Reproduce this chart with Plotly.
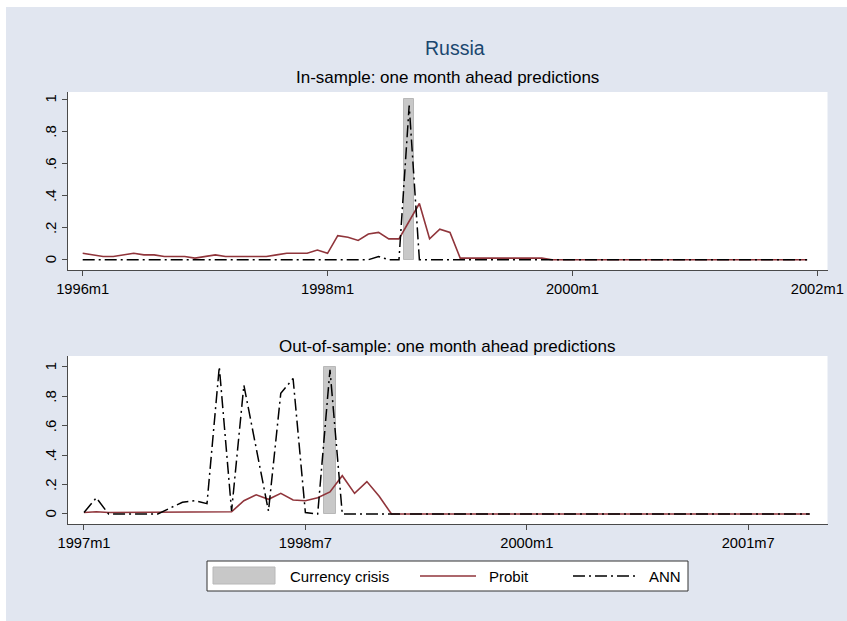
import plotly.graph_objects as go


def tm(year, month):
    """Stata-style monthly date: months since 1960m1."""
    return (year - 1960) * 12 + (month - 1)


# ---- data -------------------------------------------------------------
# In-sample window: 1996m1 .. 2001m12
in_start = tm(1996, 1)
probit_in = [0.04, 0.03, 0.02, 0.02, 0.03, 0.04, 0.03, 0.03, 0.02, 0.02, 0.02, 0.01,
             0.02, 0.03, 0.02, 0.02, 0.02, 0.02, 0.02, 0.03, 0.04, 0.04, 0.04, 0.06,
             0.04, 0.15, 0.14, 0.12, 0.16, 0.17, 0.13, 0.13, 0.24, 0.35, 0.13, 0.19,
             0.17, 0.01, 0.01, 0.01, 0.01, 0.01, 0.01, 0.01, 0.01, 0.01, 0.00, 0.00,
             0.00, 0.00, 0.00, 0.00, 0.00, 0.00, 0.00, 0.00, 0.00, 0.00, 0.00, 0.00,
             0.00, 0.00, 0.00, 0.00, 0.00, 0.00, 0.00, 0.00, 0.00, 0.00, 0.00, 0.00]
ann_in = [0.00, 0.00, 0.00, 0.00, 0.00, 0.00, 0.00, 0.00, 0.00, 0.00, 0.00, 0.00,
          0.00, 0.00, 0.00, 0.00, 0.00, 0.00, 0.00, 0.00, 0.00, 0.00, 0.00, 0.00,
          0.00, 0.00, 0.00, 0.00, 0.00, 0.02, 0.00, 0.00, 0.96, 0.00, 0.00, 0.00,
          0.00, 0.00, 0.00, 0.00, 0.00, 0.00, 0.00, 0.00, 0.00, 0.00, 0.00, 0.00,
          0.00, 0.00, 0.00, 0.00, 0.00, 0.00, 0.00, 0.00, 0.00, 0.00, 0.00, 0.00,
          0.00, 0.00, 0.00, 0.00, 0.00, 0.00, 0.00, 0.00, 0.00, 0.00, 0.00, 0.00]

# Out-of-sample window: 1997m1 .. 2001m12
out_start = tm(1997, 1)
probit_out = [0.01, 0.015, 0.01, 0.01, 0.01, 0.01, 0.01, 0.015, 0.015, 0.015, 0.01, 0.015,
              0.015, 0.09, 0.13, 0.10, 0.14, 0.095, 0.09, 0.11, 0.15, 0.26, 0.14, 0.22,
              0.12, 0.00, 0.00, 0.00, 0.00, 0.00, 0.00, 0.00, 0.00, 0.00, 0.00, 0.00,
              0.00, 0.00, 0.00, 0.00, 0.00, 0.00, 0.00, 0.00, 0.00, 0.00, 0.00, 0.00,
              0.00, 0.00, 0.00, 0.00, 0.00, 0.00, 0.00, 0.00, 0.00, 0.00, 0.00, 0.00]
ann_out = [0.01, 0.11, 0.00, 0.00, 0.00, 0.00, 0.00, 0.04, 0.08, 0.09, 0.07, 1.00,
           0.02, 0.875, 0.45, 0.02, 0.82, 0.92, 0.01, 0.00, 0.98, 0.00, 0.00, 0.00,
           0.00, 0.00, 0.00, 0.00, 0.00, 0.00, 0.00, 0.00, 0.00, 0.00, 0.00, 0.00,
           0.00, 0.00, 0.00, 0.00, 0.00, 0.00, 0.00, 0.00, 0.00, 0.00, 0.00, 0.00,
           0.00, 0.00, 0.00, 0.00, 0.00, 0.00, 0.00, 0.00, 0.00, 0.00, 0.00, 0.00]

crisis_months = [tm(1998, 9)]
crisis_level = [1]

months_in = list(range(in_start, in_start + len(probit_in)))
months_out = list(range(out_start, out_start + len(probit_out)))

in_tickvals = [tm(1996, 1), tm(1998, 1), tm(2000, 1), tm(2002, 1)]
in_ticktext = ["1996m1", "1998m1", "2000m1", "2002m1"]
out_tickvals = [tm(1997, 1), tm(1998, 7), tm(2000, 1), tm(2001, 7)]
out_ticktext = ["1997m1", "1998m7", "2000m1", "2001m7"]
y_tickvals = [0, 0.2, 0.4, 0.6, 0.8, 1]
y_ticktext = ["0", ".2", ".4", ".6", ".8", "1"]

# ---- styling ----------------------------------------------------------
W, H = 847, 621
FONT = "Liberation Sans, Arial, Helvetica, sans-serif"
BG = "#e1e6f0"
PROBIT_COLOR = "#90353b"
ANN_DASH = "12px,4px,2px,4px"
BAR_FILL = "#c8c8c8"
BAR_LINE = "#b8b8b8"
AXIS_COLOR = "#4a4a4a"


def px_x(p):
    return p / W


def px_y(p):
    return 1 - p / H


fig = go.Figure()

panels = [
    ("x", "y", months_in, probit_in, ann_in),
    ("x2", "y2", months_out, probit_out, ann_out),
]
for xa, ya, months, probit, ann in panels:
    fig.add_trace(go.Bar(
        x=crisis_months, y=crisis_level, width=1,
        marker=dict(color=BAR_FILL, line=dict(color=BAR_LINE, width=1)),
        xaxis=xa, yaxis=ya, showlegend=False, hoverinfo="skip"))
    fig.add_trace(go.Scatter(
        x=months, y=probit, mode="lines",
        line=dict(color=PROBIT_COLOR, width=1.6),
        xaxis=xa, yaxis=ya, showlegend=False))
    fig.add_trace(go.Scatter(
        x=months, y=ann, mode="lines",
        line=dict(color="black", width=1.5, dash=ANN_DASH),
        xaxis=xa, yaxis=ya, showlegend=False))

x_dom = [px_x(68), px_x(827.5)]

common_x = dict(showgrid=False, zeroline=False, showline=True, linecolor=AXIS_COLOR,
                linewidth=1, ticks="outside", ticklen=5, tickcolor=AXIS_COLOR,
                automargin=False,
                tickfont=dict(family=FONT, size=14.7, color="black"))
# y tick labels are written as rotated annotations further below
common_y = dict(showgrid=False, zeroline=False, showline=True, linecolor=AXIS_COLOR,
                linewidth=1, ticks="outside", ticklen=5, tickcolor=AXIS_COLOR,
                tickvals=y_tickvals, showticklabels=False, automargin=False)

fig.update_layout(
    width=W, height=H,
    margin=dict(l=0, r=0, t=0, b=0, autoexpand=False),
    paper_bgcolor=BG, plot_bgcolor="white",
    bargap=0,
    xaxis=dict(domain=x_dom, anchor="y", range=[in_start - 1.44, in_start + 73.0],
               tickvals=in_tickvals, ticktext=in_ticktext, **common_x),
    yaxis=dict(domain=[px_y(270), px_y(92)], anchor="x", range=[-0.064, 1.044], **common_y),
    xaxis2=dict(domain=x_dom, anchor="y2", range=[out_start - 1.3, out_start + 60.45],
                tickvals=out_tickvals, ticktext=out_ticktext, **common_x),
    yaxis2=dict(domain=[px_y(524), px_y(356)], anchor="x2", range=[-0.068, 1.073], **common_y),
)

shapes = [
    # white margin strips along the top and left edges
    dict(type="rect", xref="paper", yref="paper", x0=0, x1=1, y0=px_y(7), y1=1,
         fillcolor="white", line=dict(width=0), layer="above"),
    dict(type="rect", xref="paper", yref="paper", x0=0, x1=px_x(6), y0=0, y1=1,
         fillcolor="white", line=dict(width=0), layer="above"),
    # legend frame
    dict(type="rect", xref="paper", yref="paper", x0=px_x(207), x1=px_x(688),
         y0=px_y(591), y1=px_y(561), fillcolor="white",
         line=dict(color="#333333", width=1), layer="above"),
    # legend keys
    dict(type="rect", xref="paper", yref="paper", x0=px_x(213), x1=px_x(275),
         y0=px_y(584), y1=px_y(567), fillcolor=BAR_FILL,
         line=dict(color=BAR_LINE, width=1), layer="above"),
    dict(type="line", xref="paper", yref="paper", x0=px_x(420), x1=px_x(476),
         y0=px_y(576), y1=px_y(576), line=dict(color=PROBIT_COLOR, width=1.6), layer="above"),
    dict(type="line", xref="paper", yref="paper", x0=px_x(573), x1=px_x(635),
         y0=px_y(576), y1=px_y(576), line=dict(color="black", width=1.5, dash=ANN_DASH),
         layer="above"),
]
fig.update_layout(shapes=shapes)

annotations = [
    dict(text="Russia", x=px_x(455), y=px_y(48), font=dict(family=FONT, size=19.5, color="#1a476f")),
    dict(text="In-sample: one month ahead predictions", x=px_x(447), y=px_y(77),
         font=dict(family=FONT, size=17, color="black")),
    dict(text="Out-of-sample: one month ahead predictions", x=px_x(447), y=px_y(346),
         font=dict(family=FONT, size=17, color="black")),
    dict(text="Currency crisis", x=px_x(288), y=px_y(576), xanchor="left",
         font=dict(family=FONT, size=15, color="black")),
    dict(text="Probit", x=px_x(487), y=px_y(576), xanchor="left",
         font=dict(family=FONT, size=15, color="black")),
    dict(text="ANN", x=px_x(647), y=px_y(576), xanchor="left",
         font=dict(family=FONT, size=15, color="black")),
]
for a in annotations:
    a.setdefault("xanchor", "center")
    a.update(xref="paper", yref="paper", yanchor="middle", showarrow=False)

# rotated y tick labels, positioned on each panel's own y scale
for yref in ("y", "y2"):
    for val, txt in zip(y_tickvals, y_ticktext):
        annotations.append(dict(
            text=txt, xref="paper", yref=yref, x=px_x(50.5), y=val,
            xanchor="center", yanchor="middle", textangle=-90, showarrow=False,
            font=dict(family=FONT, size=15, color="black")))

fig.update_layout(annotations=annotations)

fig.write_html("out.html")
